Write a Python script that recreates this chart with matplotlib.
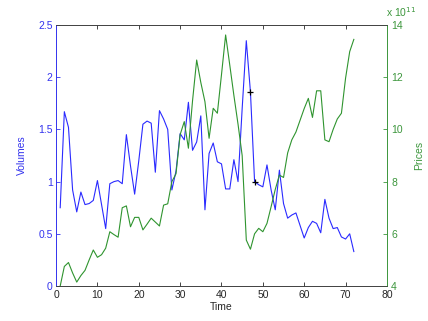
import numpy as np
import matplotlib
matplotlib.use('Agg')
import matplotlib.pyplot as plt

plt.rcParams['font.family'] = ['Liberation Sans', 'DejaVu Sans']
plt.rcParams['font.size'] = 7.5

# time index 1..72
time = list(range(1, 73))

volumes = [0.75, 1.67, 1.52, 0.92, 0.71, 0.90, 0.78, 0.79, 0.82, 1.01,
           0.78, 0.55, 0.98, 1.00, 1.01, 0.98, 1.45, 1.15, 0.88, 1.20,
           1.55, 1.58, 1.56, 1.09, 1.68, 1.60, 1.50, 0.92, 1.10, 1.46,
           1.40, 1.76, 1.30, 1.38, 1.63, 0.73, 1.27, 1.37, 1.19, 1.17,
           0.93, 0.93, 1.21, 1.00, 1.70, 2.35, 1.86, 1.00, 0.97, 0.95,
           1.16, 0.92, 0.73, 1.11, 0.79, 0.65, 0.68, 0.70, 0.58, 0.46,
           0.56, 0.62, 0.60, 0.51, 0.83, 0.65, 0.55, 0.56, 0.47, 0.45,
           0.50, 0.33]

# prices in units of 1e11
prices = [4.00, 4.75, 4.90, 4.50, 4.15, 4.40, 4.60, 5.00, 5.38, 5.10,
          5.20, 5.45, 6.08, 5.97, 5.87, 7.00, 7.07, 6.27, 6.63, 6.63,
          6.15, 6.37, 6.60, 6.45, 6.30, 7.10, 7.15, 8.00, 8.30, 9.80,
          10.30, 9.28, 11.10, 12.66, 11.80, 11.06, 9.66, 10.81, 10.62, 12.10,
          13.62, 12.47, 11.30, 10.20, 9.00, 5.76, 5.41, 6.00, 6.21, 6.08,
          6.40, 7.04, 7.70, 8.25, 8.16, 9.10, 9.60, 9.90, 10.35, 10.80,
          11.19, 10.46, 11.48, 11.48, 9.60, 9.53, 10.00, 10.40, 10.62, 11.96,
          12.98, 13.45]

# the two highlighted points on the volume line
mark_t = [47, 48]
mark_v = [1.86, 1.00]

BLUE = '#2a2aff'
GREEN = '#2f942f'
TICK_BLUE = '#3333ee'
TICK_GREEN = '#3c963c'

fig = plt.figure(figsize=(4.28, 3.21), dpi=100)
ax = fig.add_axes([0.131, 0.109, 0.773, 0.813])
ax2 = ax.twinx()

ax.plot(time, volumes, color=BLUE, lw=0.8)
ax.plot(mark_t, mark_v, '+', color='black', ms=5, mew=0.9)
ax2.plot(time, prices, color=GREEN, lw=0.8)

ax.set_xlim(0, 80)
ax.set_ylim(0, 2.5)
ax2.set_ylim(4, 14)
ax.set_xticks(range(0, 81, 10))
ax.set_yticks([0, 0.5, 1, 1.5, 2, 2.5])
ax.set_yticklabels(['0', '0.5', '1', '1.5', '2', '2.5'])
ax2.set_yticks([4, 6, 8, 10, 12, 14])

ax.tick_params(axis='x', direction='in', top=True, length=3, width=0.6,
               colors='#262626', pad=3)
ax.tick_params(axis='y', direction='in', length=3, width=0.6,
               colors=TICK_BLUE, pad=2.5)
ax2.tick_params(axis='y', direction='in', length=3, width=0.6,
                colors=TICK_GREEN, pad=3)
ax2.tick_params(axis='x', top=False, bottom=False)

for a in (ax, ax2):
    a.spines['top'].set_color('#404040')
    a.spines['bottom'].set_color('#404040')
    a.spines['left'].set_color(TICK_BLUE)
    a.spines['right'].set_color(TICK_GREEN)
    for s in a.spines.values():
        s.set_linewidth(0.6)

ax.set_xlabel('Time', color='#262626', labelpad=1)
ax.set_ylabel('Volumes', color=TICK_BLUE, labelpad=8)
ax2.set_ylabel('Prices', color=TICK_GREEN, rotation=90, labelpad=8)
ax2.text(0.998, 1.022, r'x 10$^{11}$', transform=ax2.transAxes,
         color=TICK_GREEN, ha='left', va='bottom')

fig.savefig('out.png', dpi=100)
